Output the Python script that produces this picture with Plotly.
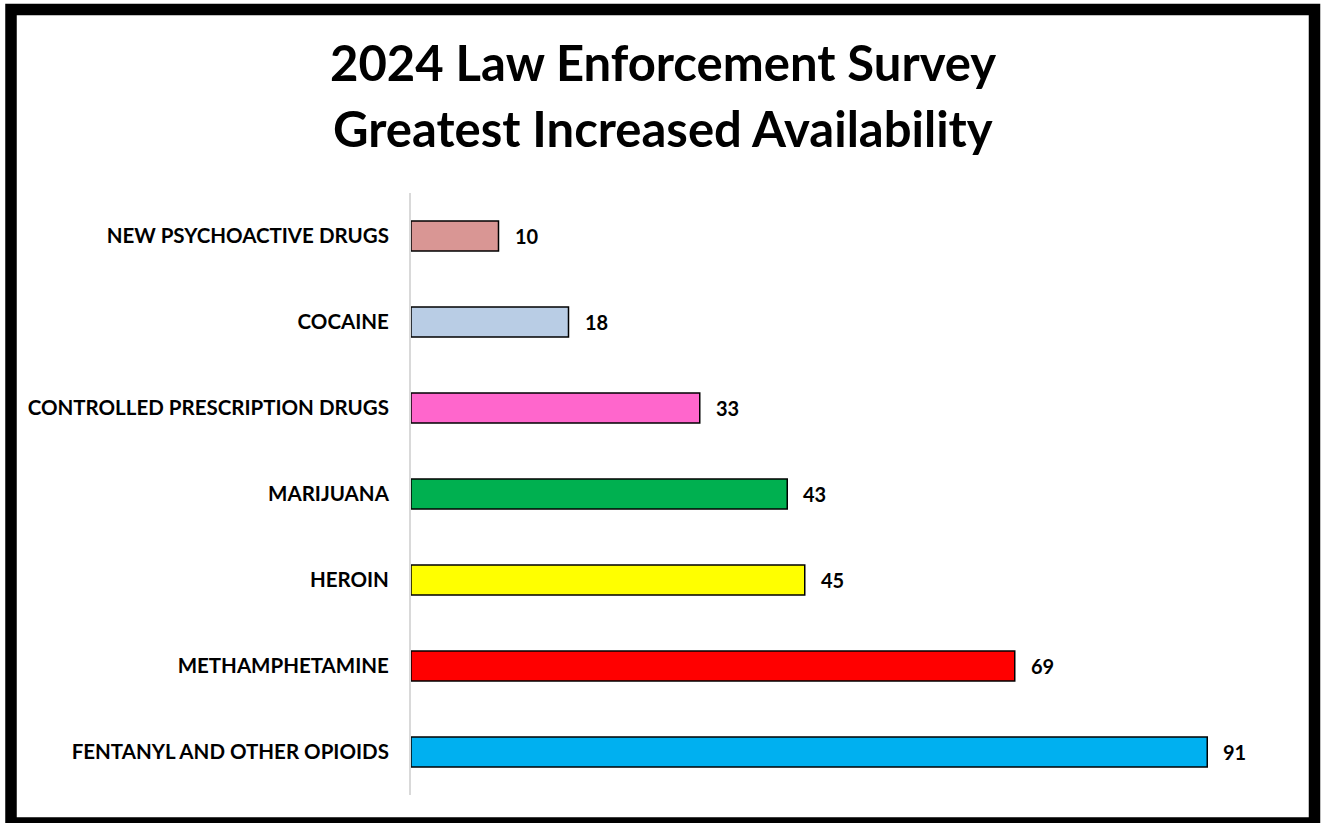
import plotly.graph_objects as go

categories = ["FENTANYL AND OTHER OPIOIDS", "METHAMPHETAMINE", "HEROIN", "MARIJUANA",
              "CONTROLLED PRESCRIPTION DRUGS", "COCAINE", "NEW PSYCHOACTIVE DRUGS"]
values = [91, 69, 45, 43, 33, 18, 10]
colors = ["#00B0F0", "#FF0000", "#FFFF00", "#00B050", "#FF66CC", "#B9CDE5", "#D99694"]
title_lines = ["2024 Law Enforcement Survey", "Greatest Increased Availability"]

FONT = "Lato"

fig = go.Figure()
fig.add_trace(go.Bar(
    y=categories, x=values, orientation="h",
    marker=dict(color=colors, line=dict(color="black", width=1.5)),
    width=0.35, hoverinfo="skip",
))

for c, v in zip(categories, values):
    fig.add_annotation(x=v, y=c, text=f"<b>{v}</b>", showarrow=False,
                       xanchor="left", xshift=14, font=dict(family=FONT, size=20, color="black"))

L, R, T, B = 411, 1286, 193, 795
W, H = 1323, 823
pw, ph = R - L, B - T

def px(x):
    return (x - L) / pw

def py(y):
    return (B - y) / ph

# title lines
for line, yc in zip(title_lines, [62, 128]):
    fig.add_annotation(x=px(663), y=py(yc), xref="paper", yref="paper", text=f"<b>{line}</b>",
                       showarrow=False, xanchor="center", yanchor="middle",
                       font=dict(family=FONT, size=49, color="black"))

fig.add_shape(type="rect", xref="paper", yref="paper",
              x0=px(11), x1=px(1314.5), y0=py(823), y1=py(9.5),
              line=dict(color="black", width=11.5), fillcolor="rgba(0,0,0,0)")

fig.update_layout(
    width=W, height=H,
    margin=dict(l=L, r=W - R, t=T, b=H - B, autoexpand=False),
    paper_bgcolor="white", plot_bgcolor="white",
    showlegend=False,
    xaxis=dict(range=[0, 100], visible=False, showgrid=False, zeroline=False),
    yaxis=dict(showgrid=False, zeroline=False, showline=True, linecolor="#D9D9D9", linewidth=2,
               ticks="", ticklabelstandoff=16,
               tickfont=dict(family=FONT, size=20.5, color="black", weight="bold"),
               range=[-0.5, 6.5]),
)

fig.write_html("out.html", config={"displayModeBar": False},
               post_script="document.body.style.margin='0';document.body.style.overflow='hidden';")
